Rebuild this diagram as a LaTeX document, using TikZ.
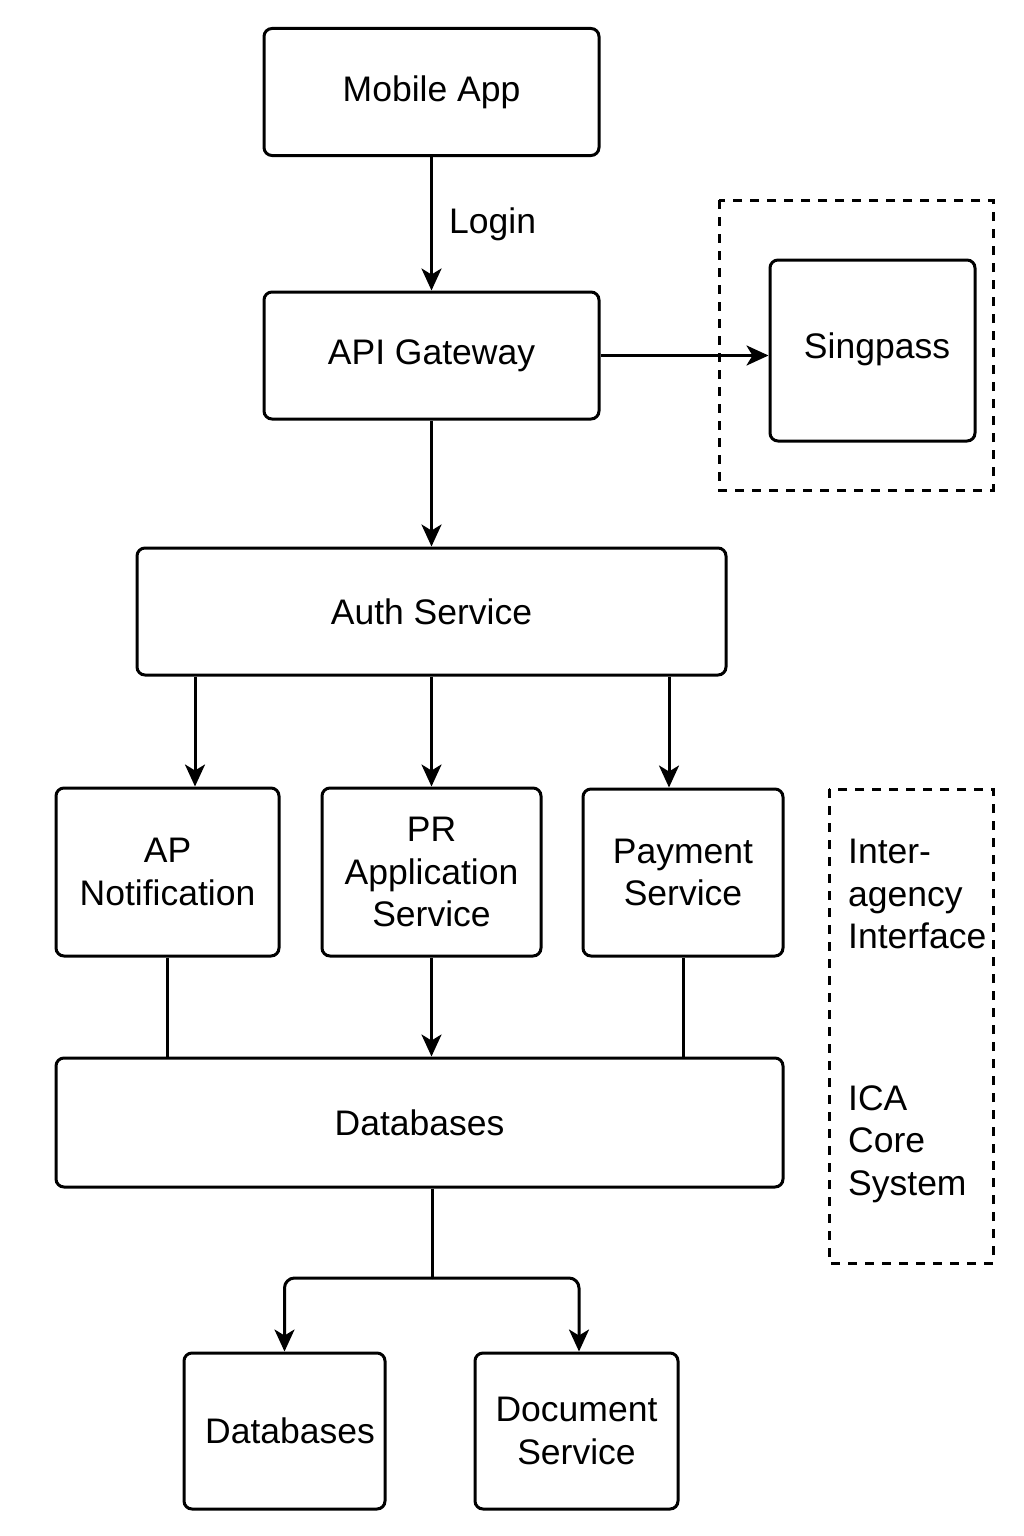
\documentclass[tikz,border=0pt]{standalone}
\usepackage{fontspec}
\setmainfont{Liberation Sans}
\usetikzlibrary{arrows.meta}
\begin{document}
\begin{tikzpicture}[x=1pt,y=-1pt,
  box/.style={draw=black, line width=3pt, rounded corners=8pt, align=center,
    inner sep=0pt, font=\fontsize{35.5}{42.5}\selectfont, text=black},
  arr/.style={line width=3pt, -{Stealth[length=22pt,width=20pt,inset=6pt]}},
  ln/.style={line width=3pt},
  dbox/.style={draw=black, line width=3pt, dash pattern=on 9pt off 8pt},
  lbl/.style={font=\fontsize{35.5}{42.5}\selectfont, align=left, inner sep=0pt}]
\useasboundingbox (0,0) rectangle (1024,1536);
\fill[white] (0,0) rectangle (1024,1536);
% dashed groups
\draw[dbox] (719,200) rectangle (993,490);
\draw[dbox] (829,789) rectangle (993,1263);
% nodes
\node[box, minimum width=335pt, minimum height=127pt] (mob) at (431.5,92) {\raisebox{-3pt}{Mobile App}};
\node[box, minimum width=335pt, minimum height=127pt] (api) at (431.5,355.5) {\raisebox{-3pt}{API Gateway}};
\node[box, minimum width=205pt, minimum height=181pt] (sp) at (872.5,350.5) {\hspace{9pt}\raisebox{9pt}{Singpass}};
\node[box, minimum width=589pt, minimum height=127pt] (auth) at (431.5,611.5) {\raisebox{-1pt}{Auth Service}};
\node[box, minimum width=223pt, minimum height=168pt] (apn) at (167.5,872) {AP\\Notification};
\node[box, minimum width=219pt, minimum height=168pt] (pr) at (431.5,872) {PR\\Application\\Service};
\node[box, minimum width=200pt, minimum height=167pt] (pay) at (683,872.5) {Payment\\Service};
\node[box, minimum width=727pt, minimum height=129pt] (db) at (419.5,1122.5) {Databases};
\node[box, minimum width=201pt, minimum height=156pt] (db2) at (284.5,1431) {\hspace{11pt}Databases};
\node[box, minimum width=203pt, minimum height=156pt] (doc) at (576.5,1431) {Document\\Service};
% labels
\node[lbl, anchor=west] (login) at (449,224) {Login};
\node[lbl, anchor=west] (iai) at (848,894) {Inter-\\agency\\Interface};
\node[lbl, anchor=west] (ica) at (848,1144) {ICA\\Core\\System};
% connectors
\draw[arr] (mob.south) -- (api.north);
\draw[arr] (api.east) -- (sp.west |- api.east);
\draw[arr] (api.south) -- (auth.north);
\coordinate (c1) at (195,0);
\coordinate (c3) at (669,0);
\coordinate (c4) at (579,0);
\draw[arr] (auth.south -| c1) -- (apn.north -| c1);
\draw[arr] (auth.south -| pr.north) -- (pr.north);
\draw[arr] (auth.south -| c3) -- (pay.north -| c3);
\draw[ln] (apn.south) -- (db.north -| apn.south);
\draw[arr] (pr.south) -- (db.north -| pr.south);
\draw[ln] (pay.south) -- (db.north -| pay.south);
\coordinate (j) at (432,1278);
\draw[ln] (db.south -| j) -- (j);
\draw[arr, rounded corners=10pt] (j) -| (db2.north);
\draw[arr, rounded corners=10pt] (j) -| (doc.north -| c4);
\end{tikzpicture}
\end{document}
